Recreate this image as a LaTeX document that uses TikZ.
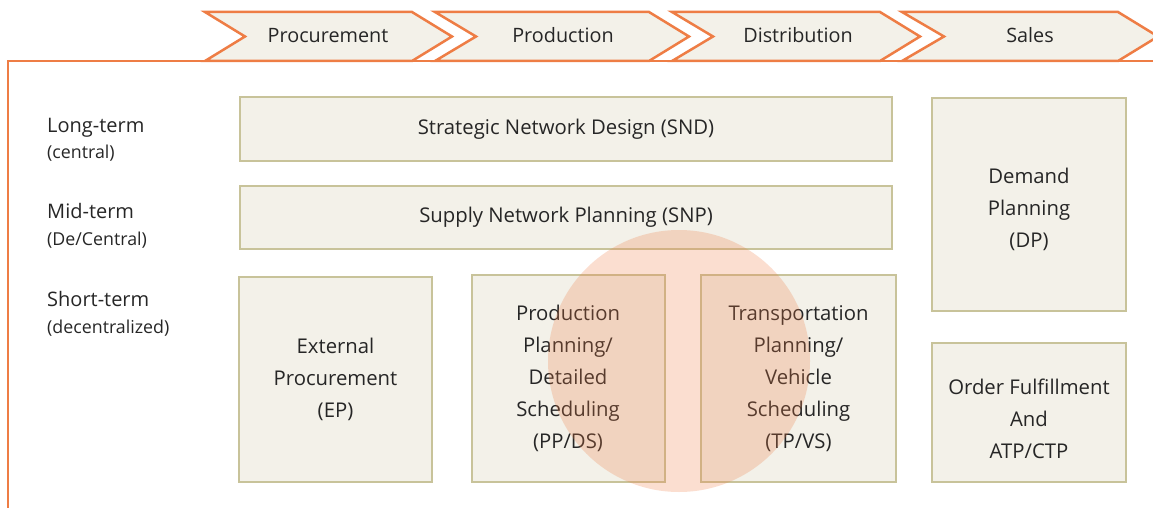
\documentclass[tikz,border=0pt]{standalone}
\usepackage{fontspec}
\setmainfont{Open Sans}
\definecolor{orng}{HTML}{EE7D45}
\definecolor{boxfill}{HTML}{F3F1E9}
\definecolor{boxline}{HTML}{C8C39A}
\definecolor{txt}{HTML}{262626}
\begin{document}
\begin{tikzpicture}[x=1pt,y=-1pt,
  box/.style={draw=boxline, fill=boxfill, line width=2pt, inner sep=0pt, align=center, text=txt, font=\fontsize{20.3}{32}\selectfont},
  chev/.style={draw=orng, fill=boxfill, line width=2.5pt, line join=miter},
  hdr/.style={text=txt, font=\fontsize{19.8}{24}\selectfont, anchor=base, inner sep=0pt},
  lvl/.style={text=txt, font=\fontsize{20}{24}\selectfont, anchor=base west, inner sep=0pt},
  sublvl/.style={text=txt, font=\fontsize{17.8}{20}\selectfont, anchor=base west, inner sep=0pt},
  focus/.style={circle, fill=orng, fill opacity=0.25, inner sep=0pt, minimum size=262pt}]
\useasboundingbox (0,0) rectangle (1153,508);
\clip (0,0) rectangle (1153,508);
% frame
\draw[orng, line width=2.5pt] (1160,61) -- (8,61) -- (8,515);
% chevrons
\draw[chev] (205,12) -- (412,12) -- (452,36.5) -- (412,61) -- (205,61) -- (245,36.5) -- cycle;
\draw[chev] (435,12) -- (649,12) -- (689,36.5) -- (649,61) -- (435,61) -- (476,36.5) -- cycle;
\draw[chev] (672,12) -- (880,12) -- (920,36.5) -- (880,61) -- (672,61) -- (713,36.5) -- cycle;
\draw[chev] (902,12) -- (1118,12) -- (1158,36.5) -- (1118,61) -- (902,61) -- (944,36.5) -- cycle;
\node[hdr] (hproc) at (328,43) {Procurement};
\node[hdr] (hprod) at (563,43) {Production};
\node[hdr] (hdist) at (798,43) {Distribution};
\node[hdr] (hsale) at (1030,43) {Sales};
% level labels
\node[lvl] (lt) at (47,132) {Long-term};
\node[sublvl] (ltc) at (47,158) {(central)};
\node[lvl] (mt) at (47,218) {Mid-term};
\node[sublvl] (mtc) at (47,245) {(De/Central)};
\node[lvl] (st) at (47,306) {Short-term};
\node[sublvl] (stc) at (47,333) {(decentralized)};
% boxes
\node[box, minimum width=652pt, minimum height=64pt] (snd) at (566,129) {Strategic Network Design (SND)};
\node[box, minimum width=652pt, minimum height=63pt] (snp) at (566,217.5) {Supply Network Planning (SNP)};
\node[box, minimum width=193pt, minimum height=205pt] (ep) at (335.5,379.5) {External\\Procurement\\(EP)};
\node[box, minimum width=193pt, minimum height=207pt] (ppds) at (568,378.5) {Production\\Planning/\\Detailed\\Scheduling\\(PP/DS)};
\node[box, minimum width=195pt, minimum height=207pt] (tpvs) at (798.5,378.5) {Transportation\\Planning/\\Vehicle\\Scheduling\\(TP/VS)};
\node[box, minimum width=194pt, minimum height=213pt, text height=89pt] (dp) at (1029,204.5) {Demand\\Planning\\(DP)};
\node[box, minimum width=194pt, minimum height=139pt, text height=93pt] (of) at (1029,412.5) {Order Fulfillment\\And\\ATP/CTP};
% highlight circle
\node[focus] (hl) at (679,361) {};
\end{tikzpicture}
\end{document}
